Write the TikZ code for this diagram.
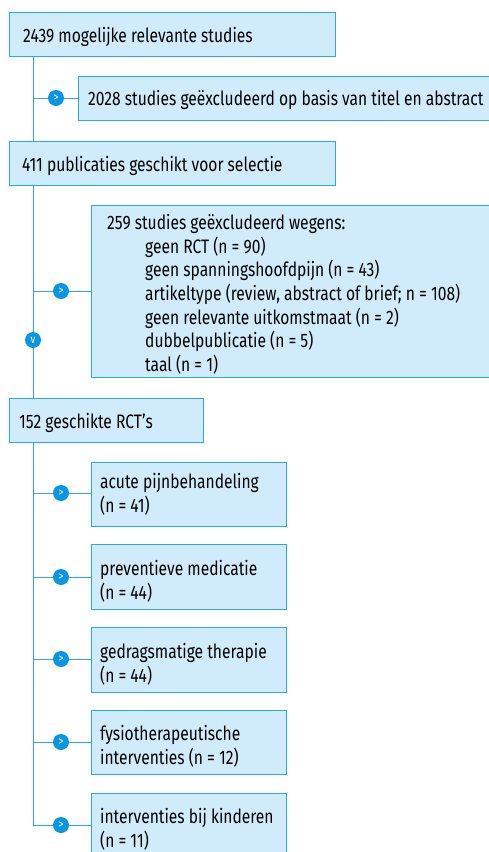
\documentclass[tikz,border=0pt]{standalone}
\usepackage{fontspec}
\setmainfont{Fira Sans}[FakeStretch=0.80]
\usetikzlibrary{positioning}
\definecolor{boxfill}{RGB}{208,236,250}
\definecolor{boxline}{RGB}{40,170,230}
\definecolor{dotfill}{RGB}{10,150,225}
\tikzset{
  fbox/.style={draw=boxline, fill=boxfill, line width=1pt, inner sep=0pt, anchor=north west},
  txt/.style={anchor=west, inner sep=0pt, font=\fontsize{19.5}{23.7}\selectfont, text=black},
  conn/.style={draw=boxline, line width=1pt},
  dot/.style={circle, fill=dotfill, minimum size=16pt, inner sep=0pt, text=white, font=\fontsize{12}{12}\selectfont},
}
\begin{document}
\begin{tikzpicture}[x=1pt,y=-1pt]
\useasboundingbox (0,0) rectangle (488,852);
% boxes
\path[fbox] (9,12) rectangle (335,56);
\path[fbox] (78,76) rectangle (492,120);
\path[fbox] (9,141) rectangle (335,185);
\path[fbox] (91,205) rectangle (492,377);
\path[fbox] (9,398) rectangle (203,442);
\path[fbox] (91,462) rectangle (286,526);
\path[fbox] (91,544) rectangle (286,609);
\path[fbox] (91,627) rectangle (286,692);
\path[fbox] (91,710) rectangle (286,774);
\path[fbox] (91,793) rectangle (286,860);
% named anchors
\coordinate (b1) at (33,56);
\coordinate (b3t) at (33,141);
\coordinate (b3) at (33,185);
\coordinate (b5t) at (33,398);
\coordinate (b5) at (33,442);
\coordinate (j2) at (33,98);  \coordinate (e2) at (78,98);
\coordinate (j4) at (33,291); \coordinate (e4) at (91,291);
\coordinate (ja) at (33,493); \coordinate (ea) at (91,493);
\coordinate (jb) at (33,577); \coordinate (eb) at (91,577);
\coordinate (jc) at (33,659); \coordinate (ec) at (91,659);
\coordinate (jd) at (33,742); \coordinate (ed) at (91,742);
\coordinate (je) at (33,825); \coordinate (ee) at (91,825);
% connectors
\draw[conn] (b1) -- (b3t);
\draw[conn] (b3) -- (b5t);
\draw[conn] (b5) -- (je) -- (ee);
\draw[conn] (j2) -- (e2);
\draw[conn] (j4) -- (e4);
\draw[conn] (ja) -- (ea);
\draw[conn] (jb) -- (eb);
\draw[conn] (jc) -- (ec);
\draw[conn] (jd) -- (ed);
% dots
\node[dot] (d2) at (56,98) {>};
\node[dot] (d4) at (61,291) {>};
\node[dot] (dv) at (33,340) {v};
\node[dot] (da) at (61,493) {>};
\node[dot] (db) at (61,577) {>};
\node[dot] (dc) at (61,659) {>};
\node[dot] (dd) at (61,742) {>};
\node[dot] (de) at (61,825) {>};
% texts
\node[txt] (t1) at (23,37) {2439 mogelijke relevante studies};
\node[txt] (t2) at (88,100) {2028 studies geëxcludeerd op basis van titel en abstract};
\node[txt] (t3) at (22,166) {411 publicaties geschikt voor selectie};
\node[txt, anchor=north west, align=left] (t4) at (107,214) {259 studies geëxcludeerd wegens:\\
\hspace*{38pt}geen RCT (n = 90)\\
\hspace*{38pt}geen spanningshoofdpijn (n = 43)\\
\hspace*{38pt}artikeltype (review, abstract of brief; n = 108)\\
\hspace*{38pt}geen relevante uitkomstmaat (n = 2)\\
\hspace*{38pt}dubbelpublicatie (n = 5)\\
\hspace*{38pt}taal (n = 1)};
\node[txt] (t5) at (19,423) {152 geschikte RCT’s};
\node[txt, anchor=north west, align=left] (ta) at (100,473) {acute pijnbehandeling\\(n = 41)};
\node[txt, anchor=north west, align=left] (tb) at (100,560) {preventieve medicatie\\(n = 44)};
\node[txt, anchor=north west, align=left] (tc) at (100,643) {gedragsmatige therapie\\(n = 44)};
\node[txt, anchor=north west, align=left] (td) at (100,725) {fysiotherapeutische\\interventies (n = 12)};
\node[txt, anchor=north west, align=left] (te) at (100,808) {interventies bij kinderen\\(n = 11)};
\end{tikzpicture}
\end{document}
